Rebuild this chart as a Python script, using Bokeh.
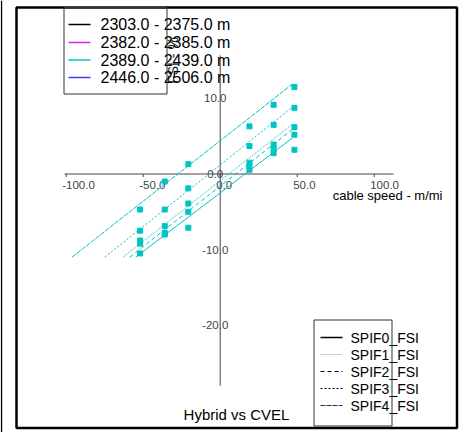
import math
from bokeh.plotting import figure
from bokeh.models import Range1d, BoxAnnotation
from bokeh.core.properties import value
from bokeh.embed import file_html
from bokeh.resources import INLINE

# ---------------- data ----------------
cable_speed = [-52.0, -36.0, -20.7, 19.0, 34.7, 48.2]          # m/mi
fsi_spif4 = [-4.7, -1.0, 1.3, 6.3, 9.15, 11.5]
fsi_spif3 = [-7.5, -4.7, -1.9, 3.7, 6.5, 8.75]
fsi_spif1 = [-8.8, -6.9, -3.9, 1.5, 3.9, 6.2]
fsi_spif2 = [-9.2, -7.8, -5.0, 1.0, 3.3, 5.2]
fsi_spif0 = [-10.5, -8.0, -7.1, 0.55, 2.75, 3.2]

spif_names = ["SPIF0_FSI", "SPIF1_FSI", "SPIF2_FSI", "SPIF3_FSI", "SPIF4_FSI"]
fit_slope = [0.155, 0.160, 0.160, 0.163, 0.160]       # per SPIF0..4
fit_intercept = [-2.5, -0.9, -1.6, 1.2, 4.4]
fit_x_end = 47.0
fit_y_floor = -11.0

depth_labels = ["2303.0 - 2375.0 m", "2382.0 - 2385.0 m",
                "2389.0 - 2439.0 m", "2446.0 - 2506.0 m"]

x_ticks = [-100, -50, 0, 50, 100]
x_tick_labels = ["-100.0", "-50.0", "0.0", "50.0", "100.0"]
y_ticks = [10, 0, -10, -20]
y_tick_labels = ["10.0", "0.0", "-10.0", "-20.0"]
x_axis_bounds = [-101.0, 112.5]
y_axis_bounds = [-28.0, 15.7]

# ---------------- styles ----------------
depth_colors = ["black", "#e020e0", "#00c8c8", "#3a3aff"]
data_color = "#00c4c4"
spif_dash = ["solid", "1 1", "4 3", "2 2", "5 1"]
spif_legend_color = ["black", "#9a9a9a", "black", "black", "#333333"]
spif_legend_width = [1.6, 1, 1, 1, 1]
FONT = value("Liberation Sans")

W, H = 462, 432
OFF = 0                      # canvas origin in picture pixels
KX, KY = 1.54, 7.56          # pixels per data unit
X0 = -(219.7 - OFF) / KX
X1 = X0 + W / KX
Y1 = (173.5 - OFF) / KY
Y0 = Y1 - H / KY


def sx(px):
    return X0 + (px - OFF) / KX


def sy(py):
    return Y1 - (py - OFF) / KY


def box(left, right, top, bottom, color, width):
    return BoxAnnotation(left=sx(left), right=sx(right), top=sy(top), bottom=sy(bottom),
                         fill_alpha=0, line_color=color, line_alpha=1, line_width=width)


p = figure(width=W, height=H, x_range=Range1d(X0, X1), y_range=Range1d(Y0, Y1),
           x_axis_type=None, y_axis_type=None, output_backend="svg",
           toolbar_location=None, min_border=0)
p.outline_line_color = None
p.background_fill_color = "white"
p.border_fill_color = "white"
if p.title is not None:
    p.title.visible = False

# outer frame
p.add_layout(box(16, 456.5, 7, 427.5, "black", 2.5))
# thin line at the very left edge of the picture
p.add_layout(BoxAnnotation(left=sx(0.3), right=sx(1.7), top=sy(0), bottom=sy(434),
                           fill_color="black", fill_alpha=1, line_alpha=0))

# axes
p.segment(x0=[x_axis_bounds[0]], y0=[0], x1=[x_axis_bounds[1]], y1=[0],
          line_color="#444444", line_width=1)
p.segment(x0=[0], y0=[y_axis_bounds[0]], x1=[0], y1=[y_axis_bounds[1]],
          line_color="#444444", line_width=1)
p.segment(x0=x_ticks, y0=[0] * len(x_ticks), x1=x_ticks, y1=[-3 / KY] * len(x_ticks),
          line_color="#444444", line_width=1)
p.text(x=x_ticks, y=[0] * len(x_ticks), text=x_tick_labels, text_font=FONT,
       text_font_size="11.5px", text_color="#444444", text_align="left",
       text_baseline="top", x_offset=-4, y_offset=7)
p.text(x=[0] * len(y_ticks), y=y_ticks, text=y_tick_labels, text_font=FONT,
       text_font_size="11.5px", text_color="#444444", text_align="center",
       text_baseline="middle", x_offset=-5)

# regression lines + points
series = [fsi_spif0, fsi_spif1, fsi_spif2, fsi_spif3, fsi_spif4]
for i, ys in enumerate(series):
    a, b = fit_slope[i], fit_intercept[i]
    xs = [(fit_y_floor - b) / a, fit_x_end]
    p.line(x=xs, y=[b + a * x for x in xs], line_color=data_color,
           line_width=1, line_dash=spif_dash[i])
for ys in series:
    p.scatter(x=cable_speed, y=ys, marker="square", size=5,
              fill_color=data_color, line_color=data_color)

# axis titles
p.text(x=[sx(442)], y=[sy(195)], text=["cable speed - m/mi"], text_font=FONT,
       text_font_size="13px", text_color="black", text_align="right",
       text_baseline="middle")
p.text(x=[sx(172)], y=[sy(60)], text=["FSI - %"], text_font=FONT,
       text_font_size="14px", text_color="#222222", text_align="center",
       text_baseline="middle", angle=math.pi / 2)
p.text(x=[sx(236)], y=[sy(414)], text=["Hybrid vs CVEL"], text_font=FONT,
       text_font_size="15px", text_color="black", text_align="center",
       text_baseline="middle")

# legend 1 (depth ranges)
p.add_layout(box(63.5, 166.5, 7, 93.5, "#333333", 1))
rows1 = [24, 42, 59.5, 77]
for i, lab in enumerate(depth_labels):
    p.segment(x0=[sx(68)], y0=[sy(rows1[i])], x1=[sx(90)], y1=[sy(rows1[i])],
              line_color=depth_colors[i], line_width=1.5)
p.text(x=[sx(100)] * 4, y=[sy(r) for r in rows1], text=depth_labels, text_font=FONT,
       text_font_size="16px", text_color="black", text_align="left",
       text_baseline="middle")

# legend 2 (SPIF line styles)
p.add_layout(box(313.5, 391.5, 319.5, 425.5, "#333333", 1))
rows2 = [337, 354, 371, 388, 405]
for i, lab in enumerate(spif_names):
    p.segment(x0=[sx(320)], y0=[sy(rows2[i])], x1=[sx(342)], y1=[sy(rows2[i])],
              line_color=spif_legend_color[i], line_width=spif_legend_width[i],
              line_dash=spif_dash[i])
p.text(x=[sx(350)] * 5, y=[sy(r) for r in rows2], text=spif_names, text_font=FONT,
       text_font_size="14px", text_color="black", text_align="left",
       text_baseline="middle")

open("out.html", "w").write(file_html(p, INLINE))
